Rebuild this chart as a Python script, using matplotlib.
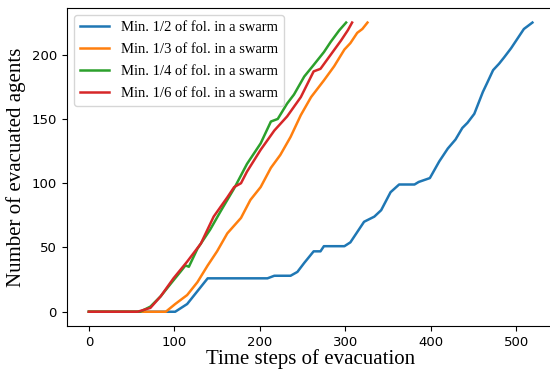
import matplotlib
matplotlib.use("Agg")
import matplotlib.pyplot as plt

labels = [
    "Min. 1/2 of fol. in a swarm",
    "Min. 1/3 of fol. in a swarm",
    "Min. 1/4 of fol. in a swarm",
    "Min. 1/6 of fol. in a swarm",
]

# half of followers in a swarm
t_half = [0, 101, 115, 139, 209, 217, 236, 244, 252, 263, 271, 275, 299, 306, 322, 334,
          342, 353, 363, 381, 386, 399, 410, 420, 429, 437, 443, 451, 461, 466, 473, 480,
          486, 494, 502, 509, 519]
n_half = [0, 0, 6, 26, 26, 28, 28, 31, 38, 47, 47, 51, 51, 54, 70, 74,
          79, 93, 99, 99, 101, 104, 117, 127, 134, 143, 147, 154, 171, 178, 188, 193,
          198, 205, 213, 220, 225]

# third
t_third = [0, 90, 101, 115, 127, 139, 150, 162, 178, 189, 201, 213, 224, 236, 248, 260,
           275, 287, 299, 306, 314, 320, 326]
n_third = [0, 0, 6, 13, 23, 36, 47, 61, 73, 87, 97, 112, 122, 136, 153, 167,
           180, 191, 204, 209, 217, 220, 225]

# quarter
t_quarter = [0, 60, 72, 84, 96, 107, 113, 117, 127, 142, 154, 170, 185, 201, 213, 221,
             232, 240, 252, 263, 275, 283, 293, 301]
n_quarter = [0, 0, 4, 12, 22, 31, 36, 35, 49, 64, 78, 96, 115, 131, 148, 150,
             162, 169, 183, 192, 202, 210, 219, 225]

# sixth
t_sixth = [0, 57, 72, 84, 99, 115, 131, 146, 162, 170, 178, 185, 201, 217, 232, 248,
           263, 271, 283, 295, 303, 308]
n_sixth = [0, 0, 3, 12, 26, 39, 53, 74, 89, 97, 100, 109, 126, 141, 152, 167,
           187, 189, 200, 211, 219, 225]

fig = plt.figure(figsize=(5.5, 3.73), dpi=100)
ax = fig.add_axes([66.7 / 550, 1 - 326.2 / 373, (554.6 - 66.7) / 550, (326.2 - 8.1) / 373])

ax.plot(t_half, n_half, label=labels[0], lw=1.8)
ax.plot(t_third, n_third, label=labels[1], lw=1.8)
ax.plot(t_quarter, n_quarter, label=labels[2], lw=1.8)
ax.plot(t_sixth, n_sixth, label=labels[3], lw=1.8)

ax.set_xticks([0, 100, 200, 300, 400, 500])
ax.set_yticks([0, 50, 100, 150, 200])
ax.tick_params(labelsize=9.5)

serif = ["Liberation Serif", "DejaVu Serif"]
ax.set_xlabel("Time steps of evacuation", family=serif, fontsize=15, labelpad=0)
ax.set_ylabel("Number of evacuated agents", family=serif, fontsize=15, labelpad=4)

ax.legend(loc="upper left", prop={"family": serif, "size": 10.5}, labelspacing=0.6)

fig.savefig("out.png", dpi=100)
